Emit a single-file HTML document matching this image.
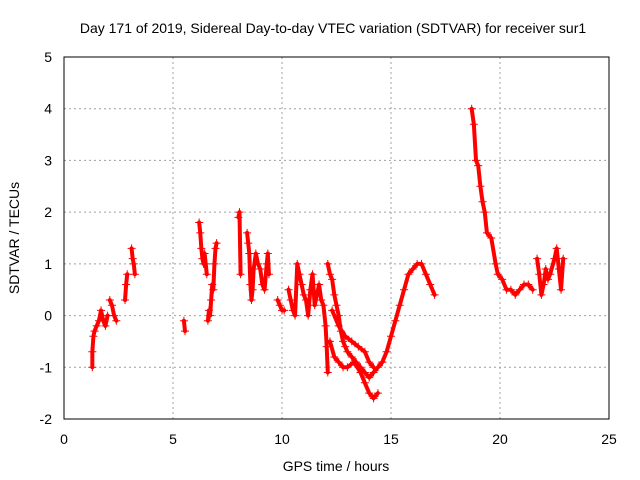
<!DOCTYPE html>
<html><head><meta charset="utf-8"><style>
body{margin:0;background:#fff}
svg{display:block;font-family:"Liberation Sans",sans-serif}
</style></head><body>
<svg id="chart" width="640" height="480"></svg>
<script>
const xTicks=[0,5,10,15,20,25];
const yTicks=[-2,-1,0,1,2,3,4,5];
const segHours=[
[1.3,1.3,1.35,1.4,1.5,1.6,1.7,1.8,1.9,2.0],
[2.1,2.2,2.3,2.4],
[2.8,2.85,2.9],
[3.1,3.15,3.2,3.25],
[5.5,5.55],
[6.2,6.25,6.3,6.35,6.4,6.45,6.5,6.55],
[6.6,6.65,6.7,6.75,6.8,6.85,6.9,6.95,7.0],
[8.0,8.05,8.1],
[8.4,8.45,8.5,8.55,8.6,8.65,8.7,8.8,8.9,9.0,9.1,9.2,9.3,9.35,9.4],
[9.8,9.9,10.0,10.1],
[10.3,10.4,10.5,10.6,10.7,10.8,10.9,11.0,11.1,11.2,11.3,11.4,11.5,11.6,11.7,11.8,11.9,12.0,12.05,12.1],
[12.1,12.2,12.3,12.4,12.5,12.6,12.7,12.8,12.9,13.0,13.2,13.4,13.6,13.8,14.0,14.2,14.4,14.6],
[12.2,12.4,12.6,12.8,13.0,13.3,13.6,13.8,14.0,14.2,14.4],
[12.3,12.6,12.9,13.2,13.5,13.8,14.0,14.2],
[14.6,14.8,15.0,15.2,15.4,15.6,15.8,16.0,16.2,16.4,16.6,16.8,17.0],
[18.7,18.8,18.9,19.0,19.1,19.2,19.3,19.4,19.6,19.8,19.9,20.1,20.3,20.5,20.7,20.9,21.1,21.3,21.5],
[21.7,21.8,21.9,22.0,22.1,22.2,22.3,22.5,22.6,22.7,22.8,22.9]
];
const segValues=[
[-1.0,-0.7,-0.4,-0.3,-0.2,-0.1,0.1,-0.1,-0.2,0.0],
[0.3,0.2,0.0,-0.1],
[0.3,0.6,0.8],
[1.3,1.1,1.0,0.8],
[-0.1,-0.3],
[1.8,1.6,1.3,1.1,1.0,1.2,1.0,0.8],
[-0.1,0.1,0.0,0.3,0.6,0.5,1.0,1.3,1.4],
[1.9,2.0,0.8],
[1.6,1.4,1.2,0.6,0.3,0.5,0.9,1.2,1.0,0.9,0.6,0.5,1.0,1.2,0.8],
[0.3,0.2,0.1,0.1],
[0.5,0.3,0.1,0.0,1.0,0.8,0.6,0.4,0.3,0.0,0.5,0.8,0.2,0.4,0.6,0.3,0.2,-0.2,-0.6,-1.1],
[1.0,0.8,0.7,0.4,0.2,0.0,-0.3,-0.5,-0.6,-0.7,-0.8,-0.9,-1.0,-1.1,-1.2,-1.1,-1.0,-0.9],
[-0.5,-0.8,-0.9,-1.0,-1.0,-0.9,-1.1,-1.3,-1.5,-1.6,-1.5],
[0.1,-0.2,-0.4,-0.5,-0.6,-0.7,-0.9,-1.0],
[-0.9,-0.7,-0.4,-0.1,0.2,0.5,0.8,0.9,1.0,1.0,0.8,0.6,0.4],
[4.0,3.7,3.0,2.9,2.5,2.2,2.0,1.6,1.5,1.0,0.8,0.7,0.5,0.5,0.4,0.5,0.6,0.6,0.5],
[1.1,0.8,0.4,0.6,0.9,0.7,0.8,1.1,1.3,0.9,0.5,1.1]
];
const L=64,R=609,T=57,B=419;
const xs=h=>L+(h-0)/(25-0)*(R-L);
const ys=v=>B-(v+2)/(5+2)*(B-T);
const svg=document.getElementById('chart');
const NS='http://www.w3.org/2000/svg';
function mk(tag,attrs,parent){const e=document.createElementNS(NS,tag);for(const k in attrs)e.setAttribute(k,attrs[k]);(parent||svg).appendChild(e);return e;}
// grid
xTicks.forEach(t=>{
  if(t>0&&t<25){const g=mk('line',{x1:xs(t),x2:xs(t),y1:T,y2:B,stroke:'#a0a0a0','stroke-dasharray':'2,3'});
  
  }
  const tl=mk('text',{x:xs(t),y:B+25,'text-anchor':'middle','font-size':14,fill:'#000'});tl.textContent=t;
  
  
});
yTicks.forEach(t=>{
  if(t>-2&&t<5){const g=mk('line',{x1:L,x2:R,y1:ys(t),y2:ys(t),stroke:'#a0a0a0','stroke-dasharray':'2,3'});
  
  }
  const tl=mk('text',{x:L-12,y:ys(t)+5,'text-anchor':'end','font-size':14,fill:'#000'});tl.textContent=t;
  
  
});
const fr=mk('rect',{x:L,y:T,width:R-L,height:B-T,fill:'none',stroke:'#000','stroke-width':1});


// series
const gS=mk('g',{});


segHours.forEach((hs,si)=>{
  const vs=segValues[si];
  const pts=hs.map((h,i)=>xs(h)+','+ys(vs[i])).join(' ');
  const pl=mk('polyline',{points:pts,fill:'none',stroke:'#f00','stroke-width':4,'stroke-linejoin':'round','stroke-linecap':'round'},gS);
  
  
  hs.forEach((h,i)=>{
    const x=xs(h),y=ys(vs[i]);
    const p=mk('path',{d:`M${x-4},${y}H${x+4}M${x},${y-4}V${y+4}`,stroke:'#f00','stroke-width':1},gS);
    
    
  });
});
const title=mk('text',{x:333,y:33,'text-anchor':'middle','font-size':14,fill:'#000'});
title.textContent='Day 171 of 2019, Sidereal Day-to-day VTEC variation (SDTVAR) for receiver sur1';


const xl=mk('text',{x:336,y:471,'text-anchor':'middle','font-size':14,fill:'#000'});
xl.textContent='GPS time / hours';


const yl=mk('text',{x:0,y:0,'text-anchor':'middle','font-size':14,fill:'#000',transform:'translate(19,238) rotate(-90)'});
yl.textContent='SDTVAR / TECUs';


</script>
</body></html>
